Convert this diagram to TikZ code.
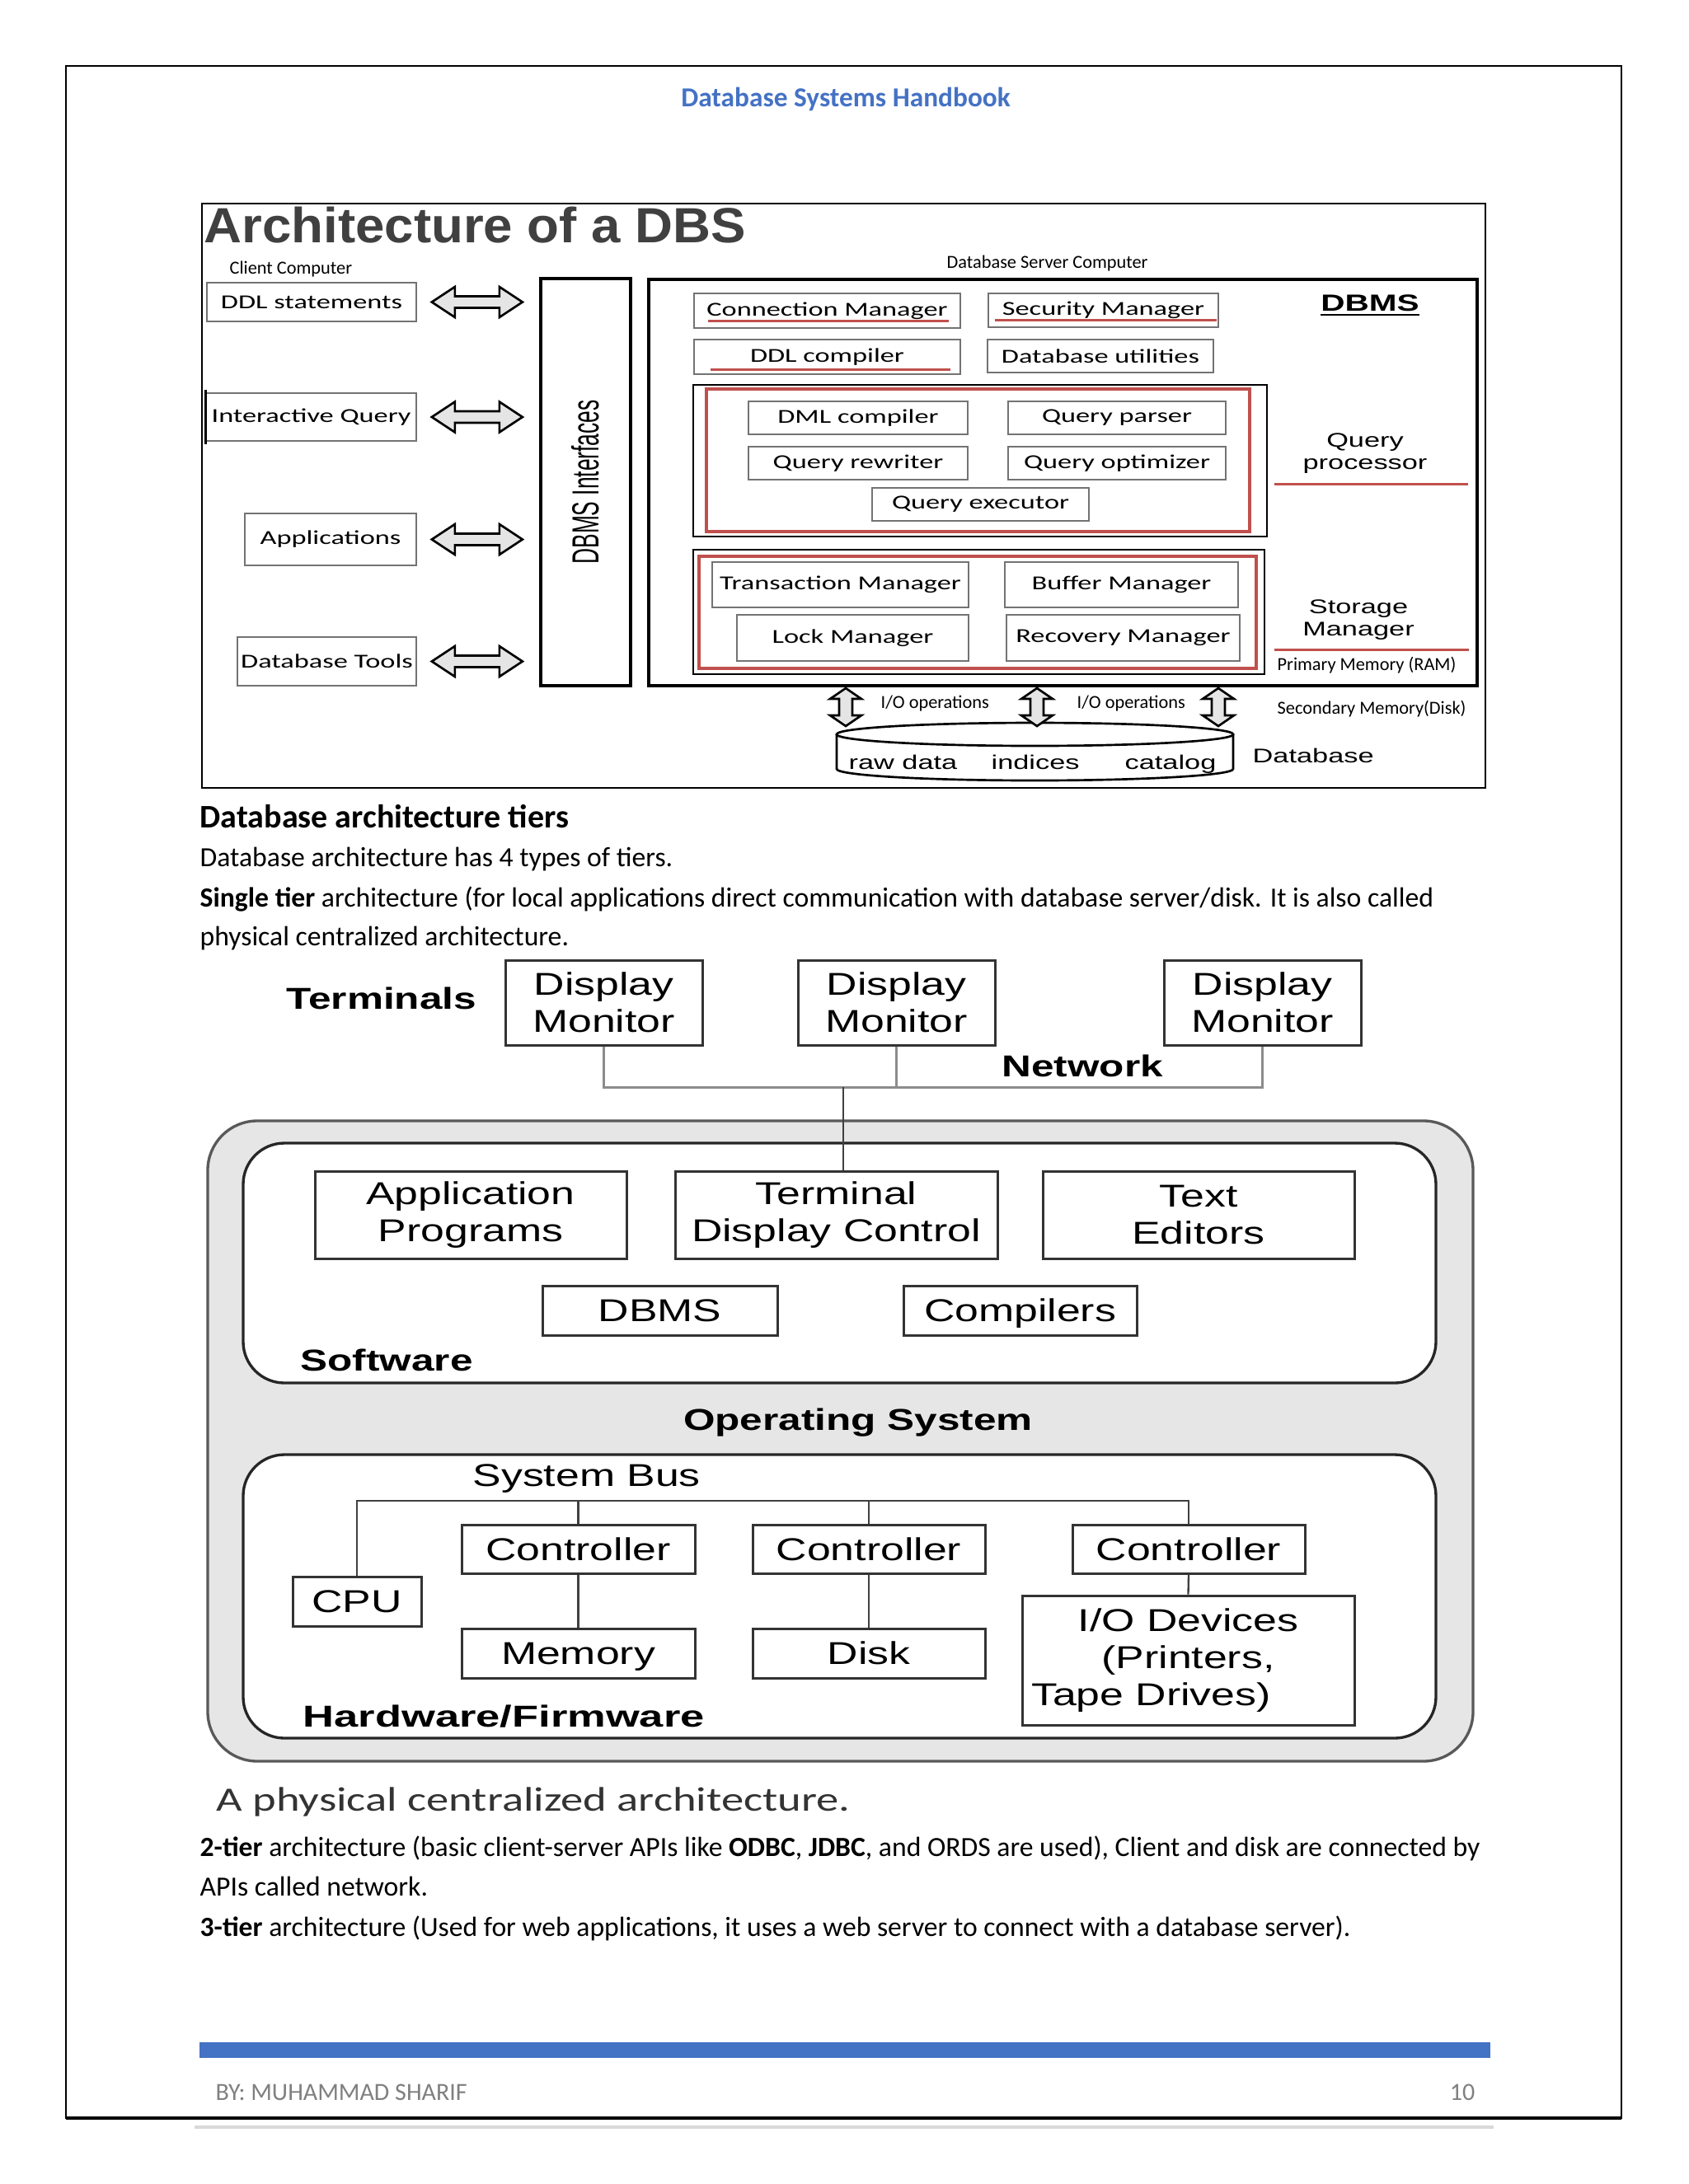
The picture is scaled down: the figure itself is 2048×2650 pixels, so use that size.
\documentclass[tikz,border=0pt]{standalone}
\usepackage{fontspec}
\usepackage{graphicx}
\setmainfont{Carlito}
\newfontfamily\boxfont[FakeStretch=1.43]{Carlito}
\newfontfamily\widesans[FakeStretch=1.43]{Liberation Sans}
\newfontfamily\titlefont[FakeStretch=1.06]{Liberation Sans}
\newfontfamily\plainsans{Liberation Sans}
\newfontfamily\hwfont[FakeStretch=1.35]{Liberation Sans}
\newfontfamily\capfont[FakeStretch=1.32]{Carlito}
\usetikzlibrary{fit,positioning}
\definecolor{hdblue}{HTML}{4472C4}
\definecolor{boxred}{HTML}{C0504D}
\definecolor{osgray}{HTML}{E6E6E6}

\tikzset{
  boxsize/.style args={#1x#2}{minimum width=#1*0.10542mm, minimum height=#2*0.10542mm},
  txt/.style={anchor=base west, inner sep=0pt},
  bodytxt/.style={txt, font=\fontsize{10.1}{12}\selectfont},
  smalltxt/.style={txt, font=\fontsize{6.7}{8}\selectfont},
  widetxt/.style={inner sep=0pt, font=\widesans\fontsize{7.2}{8.1}\selectfont},
  topbox/.style={draw=black!55, line width=0.5pt, inner sep=0pt, font=\boxfont\fontsize{7.2}{8}\selectfont},
  heavybox/.style={draw=black, line width=1pt, inner sep=0pt},
  midbox/.style={draw=black, line width=0.85pt, inner sep=0pt},
  redbox/.style={draw=boxred, line width=1.2pt, inner sep=0pt},
  redline/.style={draw=boxred, line width=0.9pt},
  fatarrow/.style={draw=black, line width=0.8pt, fill=black!10},
  roundbox/.style={draw=black!85, line width=1pt, fill=white, rounded corners=15pt, inner sep=0pt},
  hwbox/.style={draw=black!80, line width=0.9pt, inner sep=0pt, align=center, font=\hwfont\fontsize{11.5}{13.4}\selectfont},
  hwone/.style={hwbox, text depth=0pt},
  hwlabel/.style={txt, font=\hwfont\bfseries\fontsize{11}{13}\selectfont},
  netline/.style={draw=black!45, line width=0.9pt},
  bus/.style={draw=black!75, line width=0.7pt}
}

\begin{document}
\begin{tikzpicture}[x=0.10542mm, y=-0.10542mm]
  \useasboundingbox (0,0) rectangle (2048,2650);
  \fill[white] (0,0) rectangle (2048,2650);

  % page frame and header
  \draw[line width=0.6pt] (80,80) rectangle (1967,2570);
  \draw[line width=1.2pt] (80,2570) -- (1967,2570);
  \node[anchor=base, inner sep=0pt, text=hdblue, font=\bfseries\fontsize{10}{12}\selectfont] (head) at (1026,129) {Database Systems Handbook};

  % ---- architecture of a DBS ----
  \node[heavybox, line width=0.8pt, fit={(245,247) (1802,956)}] (arch) {};
  \node[txt, text=black!75, font=\titlefont\bfseries\fontsize{18}{20}\selectfont] (title) at (247,294) {Architecture of a DBS};
  \node[smalltxt] (client) at (278,332) {Client Computer};

  \node[topbox, boxsize=254x47] (ddl) at (378,366.5) {DDL statements};
  \node[topbox, boxsize=255x58] (iq) at (377.5,506) {Interactive Query};
  \draw[line width=0.8pt] (iq.north west) ++(0,-3) -- ([yshift=-1pt]iq.south west);
  \node[topbox, boxsize=208x63] (apps) at (401,654.5) {Applications};
  \node[topbox, boxsize=217x59] (tools) at (396.5,802.5) {Database Tools};

  \node[heavybox, boxsize=109x494] (ifc) at (710.5,585)
    {\rotatebox{90}{\scalebox{1}[1.74]{\plainsans\fontsize{7.9}{9}\selectfont DBMS Interfaces}}};

  \foreach \n in {ddl,iq,apps,tools} {
    \path (\n.east) ++(73,0) coordinate (c);
    \draw[fatarrow] (c) ++(-55,0) -- ++(28,-18.5) -- ++(0,11.5) -- ++(54,0) -- ++(0,-11.5)
      -- ++(28,18.5) -- ++(-28,18.5) -- ++(0,-11.5) -- ++(-54,0) -- ++(0,11.5) -- cycle;
  }

  \node[heavybox, fit={(787,339) (1792,832)}] (server) {};
  \node[smalltxt] (srvlab) at (1148,325) {Database Server Computer};
  \node[anchor=base, inner sep=0pt, font=\widesans\bfseries\fontsize{8.5}{10}\selectfont] (dbmslab) at (1662,377) {\underline{DBMS}};

  \node[topbox, boxsize=323x42] (conn) at (1003.5,377) {Connection Manager};
  \node[topbox, boxsize=279x41] (sec) at (1338.5,376.5) {Security Manager};
  \node[topbox, boxsize=323x42] (ddlc) at (1003.5,433) {DDL compiler};
  \node[topbox, boxsize=274x40] (util) at (1335,432) {Database utilities};
  \draw[redline] (859,389) -- (1151,389);
  \draw[redline] (1207,388) -- (1476,388);
  \draw[redline] (862,448) -- (1153,448);

  % query processor
  \node[midbox, fit={(841,467) (1537,651)}] (qp) {};
  \node[redbox, fit={(857,472) (1516,645)}] (qpred) {};
  \node[topbox, boxsize=266x40] (dml) at (1041,507) {DML compiler};
  \node[topbox, boxsize=264x40] (parser) at (1355,507) {Query parser};
  \node[topbox, boxsize=266x40] (rewriter) at (1041,562) {Query rewriter};
  \node[topbox, boxsize=264x40] (optim) at (1355,562) {Query optimizer};
  \node[topbox, boxsize=263x40] (exec) at (1189.5,612) {Query executor};
  \node[widetxt, anchor=base, align=center] (qplab) at (1656,569) {Query\\processor};
  \draw[redline] (1546,587) -- (1781,587);

  % storage manager
  \node[midbox, fit={(841,667) (1534,818)}] (sm) {};
  \node[redbox, fit={(848,675) (1524,811)}] (smred) {};
  \node[topbox, boxsize=311x55] (trans) at (1019.5,709.5) {Transaction Manager};
  \node[topbox, boxsize=283x55] (buffer) at (1360.5,709.5) {Buffer Manager};
  \node[topbox, boxsize=281x56] (lock) at (1034.5,774) {Lock Manager};
  \node[topbox, boxsize=283x56] (recov) at (1362.5,774) {Recovery Manager};
  \node[widetxt, anchor=base, align=center] (smlab) at (1648,771) {Storage\\Manager};
  \draw[redline] (1546,788) -- (1782,788);
  \node[smalltxt] (ram) at (1549,813) {Primary Memory (RAM)};

  % disk
  \draw[line width=0.8pt, fill=white] (1015,891) -- (1015,933)
    arc[start angle=180, end angle=0, x radius=240.5, y radius=14] -- (1496,891);
  \draw[line width=0.8pt, fill=white] (1255.5,891) ellipse [x radius=240.5, y radius=14];
  \foreach \x in {1026,1258,1478}
    \draw[fatarrow] (\x,835) -- ++(19,13) -- ++(-11,0) -- ++(0,20) -- ++(11,0) -- ++(-19,13)
      -- ++(-19,-13) -- ++(11,0) -- ++(0,-20) -- ++(-11,0) -- cycle;
  \node[smalltxt] (io1) at (1068,859) {I/O operations};
  \node[smalltxt] (io2) at (1306,859) {I/O operations};
  \node[smalltxt] (disklab) at (1549,866) {Secondary Memory(Disk)};
  \node[widetxt, txt] (raw) at (1029,933) {raw data};
  \node[widetxt, txt] (idx) at (1202,933) {indices};
  \node[widetxt, txt] (cat) at (1364,933) {catalog};
  \node[widetxt, txt] (dblab) at (1519,925) {Database};

  % ---- text ----
  \node[txt, font=\bfseries\fontsize{12}{14}\selectfont] (tiers) at (242,1004) {Database architecture tiers};
  \node[bodytxt] (l1) at (242,1051) {Database architecture has 4 types of tiers.};
  \node[bodytxt] (l2) at (242,1100) {\textbf{Single tier} architecture (for local applications direct communication with database server/disk. It is also called};
  \node[bodytxt] (l3) at (242,1147) {physical centralized architecture.};

  % ---- physical centralized architecture ----
  \node[hwlabel] (term) at (347,1224) {Terminals};
  \node[hwbox, boxsize=239x103] (m1) at (732.5,1216.5) {Display\\Monitor};
  \node[hwbox, boxsize=239x103] (m2) at (1087.5,1216.5) {Display\\Monitor};
  \node[hwbox, boxsize=239x103] (m3) at (1531.5,1216.5) {Display\\Monitor};
  \node[hwlabel] (netlab) at (1215,1306) {Network};
  \coordinate (net) at (1023,1319);
  \draw[netline] (m1.south) |- (net) -| (m3.south);
  \draw[netline] (m2.south) -- (m2.south |- net);

  \node[roundbox, draw=black!65, fill=osgray, rounded corners=18pt, fit={(252,1360) (1787,2137)}] (os) {};
  \node[roundbox, fit={(295,1387) (1742,1678)}] (sw) {};
  \node[roundbox, fit={(295,1765) (1742,2109)}] (hw) {};

  \node[hwbox, boxsize=378x106] (app) at (571,1474) {Application\\Programs};
  \node[hwbox, boxsize=391x106] (tdc) at (1014.5,1474) {Terminal\\Display Control};
  \node[hwbox, boxsize=378x106] (ted) at (1454,1474) {Text\\Editors};
  \node[hwone, boxsize=285x60] (dbms) at (800.5,1590) {DBMS};
  \node[hwone, boxsize=283x60] (comp) at (1237.5,1590) {Compilers};
  \node[hwlabel] (swlab) at (364,1663) {Software};
  \draw[bus] (net) -- (net |- tdc.north);

  \node[hwlabel, anchor=base] (oslab) at (1041,1735) {Operating System};
  \node[txt, font=\hwfont\fontsize{11.5}{13}\selectfont] (buslab) at (573,1803) {System Bus};

  \node[hwone, boxsize=156x60] (cpu) at (433,1943) {CPU};
  \node[hwone, boxsize=283x59] (c1) at (701.5,1879.5) {Controller};
  \node[hwone, boxsize=282x59] (c2) at (1054,1879.5) {Controller};
  \node[hwone, boxsize=282x59] (c3) at (1442,1879.5) {Controller};
  \node[hwone, boxsize=283x60] (mem) at (701.5,2006) {Memory};
  \node[hwone, boxsize=282x60] (disk) at (1054,2006) {Disk};
  \node[hwbox, boxsize=403x157] (io) at (1441.5,2014.5) {I/O Devices\\(Printers,\\Tape Drives)\hspace*{27pt}};
  \node[hwlabel] (hwlab) at (367,2095) {\scalebox{1.06}[1]{Hardware/Firmware}};

  \coordinate (bus) at (433,1821);
  \draw[bus] (cpu.north) -- (bus) -| (c3.north);
  \draw[bus] (c1.north) -- (c1.north |- bus);
  \draw[bus] (c2.north) -- (c2.north |- bus);
  \draw[bus] (c1.south) -- (mem.north);
  \draw[bus] (c2.south) -- (disk.north);
  \draw[bus] (c3.south) -- (io.north);

  \node[txt, text=black!80, font=\capfont\fontsize{12.4}{14}\selectfont] (caption) at (262,2197) {A physical centralized architecture.};

  % ---- text ----
  \node[bodytxt] (l4) at (242,2252) {\textbf{2-tier} architecture (basic client-server APIs like \textbf{ODBC}, \textbf{JDBC}, and ORDS are used), Client and disk are connected by};
  \node[bodytxt] (l5) at (242,2300) {APIs called network.};
  \node[bodytxt] (l6) at (242,2349) {\textbf{3-tier} architecture (Used for web applications, it uses a web server to connect with a database server).};

  % footer
  \fill[hdblue] (242,2478) rectangle (1808,2497);
  \node[txt, text=black!50, font=\fontsize{9}{11}\selectfont] (author) at (261,2548) {BY: MUHAMMAD SHARIF};
  \node[anchor=base east, inner sep=0pt, text=black!50, font=\fontsize{9}{11}\selectfont] (page) at (1790,2548) {10};
  \draw[black!15, line width=1pt] (236,2581) -- (1812,2581);
\end{tikzpicture}
\end{document}
